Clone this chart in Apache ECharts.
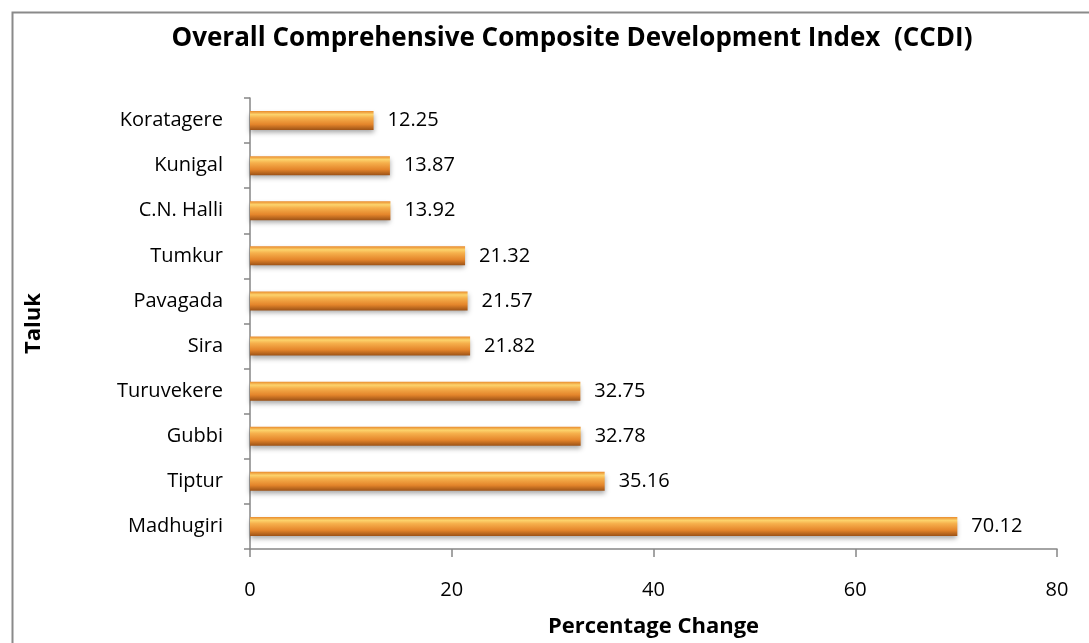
<!DOCTYPE html>
<html>
<head>
<meta charset="utf-8">
<script src="https://cdn.jsdelivr.net/npm/echarts@6/dist/echarts.min.js"></script>
<style>
html,body{margin:0;padding:0;background:#fff;}
#chart{width:1089px;height:643px;}
</style>
</head>
<body>
<div id="chart"></div>
<script>
var categories = ["Madhugiri","Tiptur","Gubbi","Turuvekere","Sira","Pavagada","Tumkur","C.N. Halli","Kunigal","Koratagere"];
var values = [70.12,35.16,32.78,32.75,21.82,21.57,21.32,13.92,13.87,12.25];
var xTicks = [0,20,40,60,80];

var FONT = "'Open Sans', 'Noto Sans', sans-serif";
var chart = echarts.init(document.getElementById('chart'), null, {renderer:'canvas'});
chart.setOption({
  animation:false,
  backgroundColor:'#fff',
  graphic:[{type:'rect',left:10,top:10,shape:{x:0,y:0,width:1100,height:700},
    style:{fill:'none',stroke:'#8a8a8a',lineWidth:2},silent:true,z:-1}],
  title:{text:'Overall Comprehensive Composite Development Index  (CCDI)',left:567,top:21,textAlign:'center',
    textStyle:{fontFamily:FONT,fontSize:26,fontWeight:'bold',color:'#000'}},
  grid:{left:250,right:32,top:98,bottom:83,containLabel:false},
  xAxis:{type:'value',min:0,max:80,interval:20,
    name:'Percentage Change',nameLocation:'middle',nameGap:67,
    nameTextStyle:{fontFamily:FONT,fontSize:22,fontWeight:'bold',color:'#000'},
    axisLine:{show:true,lineStyle:{color:'#868686',width:1.5}},
    axisTick:{show:true,length:8,lineStyle:{color:'#868686',width:1.5}},
    axisLabel:{fontFamily:FONT,fontSize:20,color:'#000',margin:31,
      formatter:function(v){return xTicks.indexOf(v)>=0?String(v):'';}},
    splitLine:{show:false}},
  yAxis:{type:'category',data:categories,
    name:'Taluk',nameLocation:'middle',nameGap:205,nameRotate:90,
    nameTextStyle:{fontFamily:FONT,fontSize:22,fontWeight:'bold',color:'#000'},
    axisLine:{show:true,lineStyle:{color:'#868686',width:1.5}},
    axisTick:{show:true,length:6,lineStyle:{color:'#868686',width:1.5}},
    axisLabel:{fontFamily:FONT,fontSize:20,color:'#000',margin:27}},
  series:[{type:'bar',data:values,barWidth:19,
    label:{show:true,position:'right',distance:14,fontFamily:FONT,fontSize:20,color:'#000',
      formatter:function(p){return p.value.toFixed(2);}},
    itemStyle:{
      color:new echarts.graphic.LinearGradient(0,0,0,1,[
        {offset:0,color:'#e98a2c'},
        {offset:0.18,color:'#fcd36c'},
        {offset:0.35,color:'#f6b04c'},
        {offset:0.7,color:'#e4852b'},
        {offset:1,color:'#9c5216'}]),
      shadowColor:'rgba(0,0,0,0.35)',shadowBlur:5,shadowOffsetY:3}
  }]
});
</script>
</body>
</html>
